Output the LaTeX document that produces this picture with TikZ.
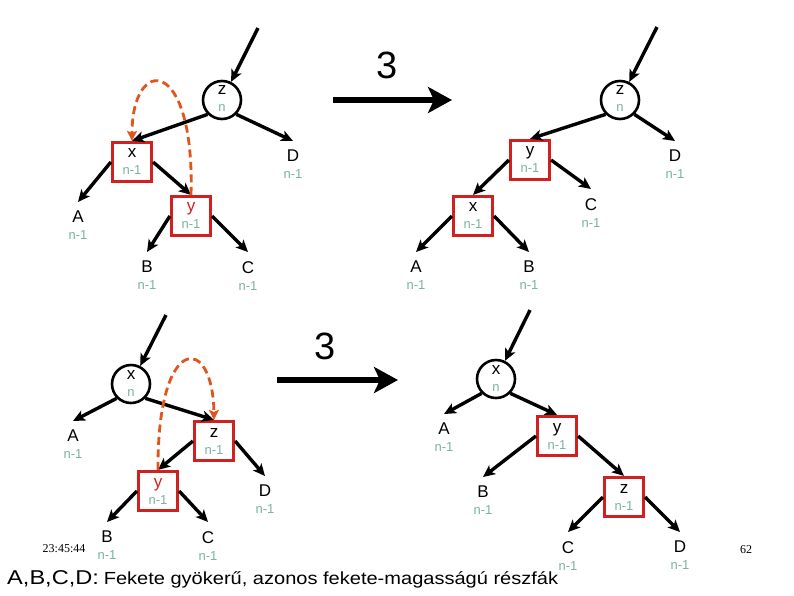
\documentclass[tikz,border=0pt]{standalone}
\usepackage{fontspec}
\setmainfont{Liberation Sans}
\newfontfamily\serifft{Liberation Serif}
\newfontfamily\capfont[FakeStretch=1.145]{Liberation Sans}
\newfontfamily\capfontb[FakeStretch=1.18]{Liberation Sans}
\usetikzlibrary{arrows.meta}
\definecolor{ncol}{RGB}{120,178,160}
\definecolor{boxred}{RGB}{208,32,32}
\definecolor{dashor}{RGB}{226,84,30}
\newcommand\ndt[2]{#1\\{\fontsize{13}{15.5}\selectfont\color{ncol}#2}}
\newcommand\cdt[2]{#1\\{\fontsize{13}{13}\selectfont\color{ncol}#2\rule[-2pt]{0pt}{2pt}}}
\newcommand\lft[1]{#1\\{\fontsize{13}{14}\selectfont\color{ncol}n-1}}
\tikzset{
 circ/.style={circle, draw, line width=2.6pt, minimum size=38pt, inner sep=0pt, align=center, font=\fontsize{17}{17}\selectfont},
 rbox/.style={rectangle, draw=boxred, line width=3.2pt, minimum size=39pt, inner sep=0pt, align=center, font=\fontsize{17}{17}\selectfont},
 leaf/.style={anchor=north, inner xsep=0pt, inner ysep=9pt, align=center, font=\fontsize{17}{17}\selectfont},
 edge/.style={line width=3.4pt, -{Stealth[length=12pt,width=11pt,inset=3pt]}},
 swapar/.style={dashor, line width=2.8pt, dash pattern=on 8pt off 4.5pt, -{Stealth[length=10pt,width=10pt,inset=2pt]}},
 bigar/.style={line width=5.5pt, -{Stealth[length=24pt,width=26pt,inset=6pt]}},
 num/.style={font=\fontsize{38}{38}\selectfont},
 small/.style={font=\serifft\fontsize{12}{12}\selectfont},
}
\begin{document}
\begin{tikzpicture}[x=1pt,y=-1pt]
\useasboundingbox (0,0) rectangle (794,595);
% ---------- top left
\coordinate (inTL) at (258,28);
\node[circ] (z1) at (222,100) {\cdt{z}{n}};
\node[rbox] (x1) at (132,162) {\ndt{x}{n-1}};
\node[rbox] (y1) at (191,216) {\ndt{\textcolor{boxred}{y}}{n-1}};
\node[leaf] (A1) at (78,202) {\lft{A}};
\node[leaf] (D1) at (293,141) {\lft{D}};
\node[leaf] (B1) at (147,252) {\lft{B}};
\node[leaf] (C1) at (248,252) {\lft{C}};
\draw[edge] (inTL) -- (z1);
\draw[edge] (z1.south west) -- (x1.north);
\draw[edge] (z1.south east) -- (D1.north);
\draw[edge] (x1.west) -- (A1.north);
\draw[edge] (x1.east) -- (y1.north);
\draw[edge] (y1.west) -- (B1.north);
\draw[edge] (y1.east) -- (C1.north);
\draw[swapar] (y1.north) .. controls (195,55) and (132,55) .. (x1.north);
% ---------- top arrow
\coordinate (a1s) at (333,100);
\coordinate (a1e) at (452,100);
\draw[bigar] (a1s) -- (a1e);
\node[num] (n1) at (387,65) {3};
% ---------- top right
\coordinate (inTR) at (657,27);
\node[circ] (z2) at (620,100) {\cdt{z}{n}};
\node[rbox] (y2) at (530,160) {\ndt{y}{n-1}};
\node[rbox] (x2) at (473,216) {\ndt{x}{n-1}};
\node[leaf] (D2) at (675,141) {\lft{D}};
\node[leaf] (C2) at (591,189) {\lft{C}};
\node[leaf] (A2) at (416,252) {\lft{A}};
\node[leaf] (B2) at (529,252) {\lft{B}};
\draw[edge] (inTR) -- (z2);
\draw[edge] (z2.south west) -- (y2.north);
\draw[edge] (z2.south east) -- (D2.north);
\draw[edge] (y2.west) -- (x2.north);
\draw[edge] (y2.east) -- (C2.north);
\draw[edge] (x2.west) -- (A2.north);
\draw[edge] (x2.east) -- (B2.north);
% ---------- bottom left
\coordinate (inBL) at (166,315);
\node[circ] (x3) at (131,384) {\cdt{x}{n}};
\node[rbox] (z3) at (214,441) {\ndt{z}{n-1}};
\node[rbox] (y3) at (158,491) {\ndt{\textcolor{boxred}{y}}{n-1}};
\node[leaf] (A3) at (73,421) {\lft{A}};
\node[leaf] (D3) at (265,476) {\lft{D}};
\node[leaf] (B3) at (107,522) {\lft{B}};
\node[leaf] (C3) at (208,522) {\lft{C}};
\draw[edge] (inBL) -- (x3);
\draw[edge] (x3.south west) -- (A3.north);
\draw[edge] (x3.south east) -- (z3.north);
\draw[edge] (z3.west) -- (y3.north);
\draw[edge] (z3.east) -- (D3.north);
\draw[edge] (y3.west) -- (B3.north);
\draw[edge] (y3.east) -- (C3.north);
\draw[swapar] (y3.north) .. controls (157,333) and (213,333) .. (z3.north);
% ---------- bottom arrow
\coordinate (a2s) at (277,380);
\coordinate (a2e) at (398,380);
\draw[bigar] (a2s) -- (a2e);
\node[num] (n2) at (325,346) {3};
% ---------- bottom right
\coordinate (inBR) at (530,310);
\node[circ] (x4) at (496,379) {\cdt{x}{n}};
\node[rbox] (y4) at (557,436) {\ndt{y}{n-1}};
\node[rbox] (z4) at (624,497) {\ndt{z}{n-1}};
\node[leaf] (A4) at (444,414) {\lft{A}};
\node[leaf] (B4) at (483,477) {\lft{B}};
\node[leaf] (C4) at (568,532) {\lft{C}};
\node[leaf] (D4) at (680,532) {\lft{D}};
\draw[edge] (inBR) -- (x4);
\draw[edge] (x4.south west) -- (A4.north);
\draw[edge] (x4.south east) -- (y4.north);
\draw[edge] (y4.west) -- (B4.north);
\draw[edge] (y4.east) -- (z4.north);
\draw[edge] (z4.west) -- (C4.north);
\draw[edge] (z4.east) -- (D4.north);
% ---------- texts
\node[small] (ts) at (64,549) {23:45:44};
\node[small] (pg) at (746,550) {62};
\node[anchor=base west, inner sep=0pt] (cap) at (7,584) {{\capfontb\fontsize{20}{20}\selectfont A,B,C,D:}\hspace{2pt} {\capfont\fontsize{17.5}{18}\selectfont Fekete gyökerű, azonos fekete-magasságú részfák}};
\end{tikzpicture}
\end{document}
